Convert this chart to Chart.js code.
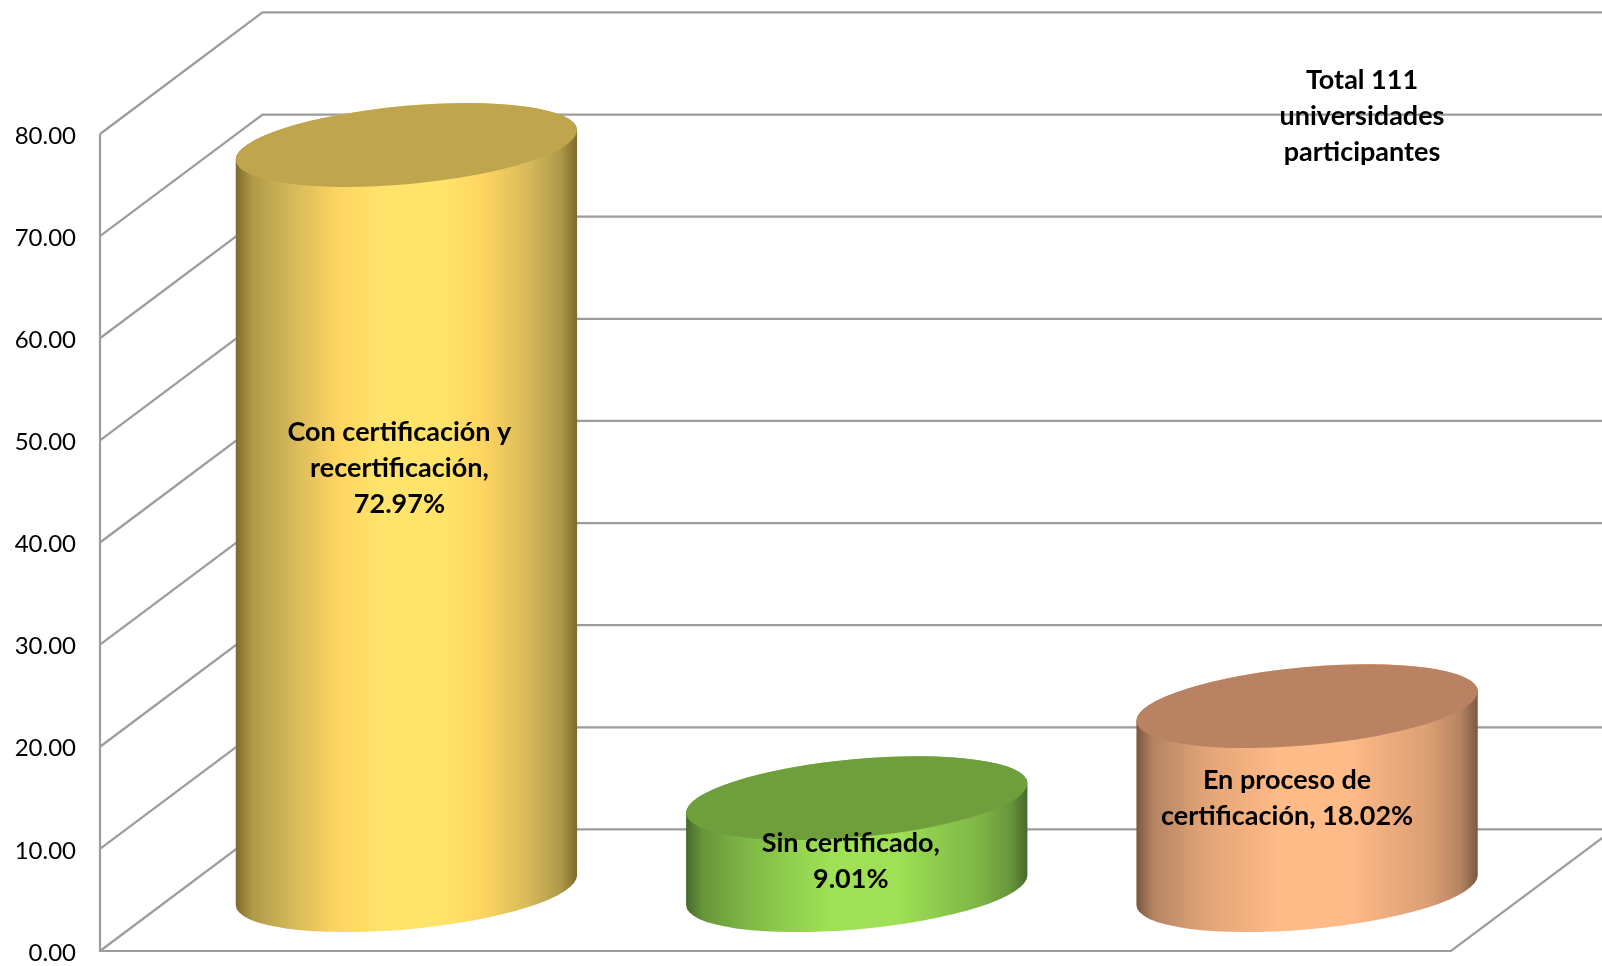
<!DOCTYPE html>
<html lang="es">
<head>
    <meta charset="UTF-8">
    <title>Universidades participantes</title>
    <script src="https://cdn.jsdelivr.net/npm/chart.js"></script>
    <style>
        html, body { margin: 0; padding: 0; background: #fff; }
        canvas { display: block; }
    </style>
</head>
<body>
    <canvas id="chart" width="1602" height="966"></canvas>
    <script>
        const categories = ['Con certificación y recertificación', 'Sin certificado', 'En proceso de certificación'];
        const values = [72.97, 9.01, 18.02];
        const barLabels = [
            ['Con certificación y', 'recertificación,', '72.97%'],
            ['Sin certificado,', '9.01%'],
            ['En proceso de', 'certificación, 18.02%']
        ];
        const noteLines = ['Total 111', 'universidades', 'participantes'];
        const sideColors = [
            ['#7f6a2c', '#b09a48', '#d9bc5b', '#ffd561', '#ffe36b', '#ffe36b', '#ffd561', '#d9bc5b', '#b09a48', '#7f6a2c'],
            ['#47692a', '#68963b', '#7fb846', '#8fce4e', '#9fe056', '#9fe056', '#8fce4e', '#7fb846', '#68963b', '#47692a'],
            ['#7a583f', '#b48463', '#dda074', '#f0ae7e', '#ffbb88', '#ffbb88', '#f0ae7e', '#dda074', '#b48463', '#7a583f']
        ];
        const topColors = ['#bfa54d', '#6f9f3d', '#b98363'];

        const colorStops = [0, 0.05, 0.18, 0.3, 0.42, 0.62, 0.72, 0.85, 0.95, 1];
        const depthX = 162.5, depthY = -121.6;
        const tilt = -5.23 * Math.PI / 180;
        const labelFont = 'bold 27px Lato, sans-serif';

        const cylinders = {
            id: 'cylinders',
            // layout left the y axis short of the floor line, so pin it here
            afterLayout(chart) {
                const y = chart.scales.y;
                y.top = 134;
                y.bottom = 951;
                y.height = 817;
                y.configure();
            },
            beforeDraw(chart) {
                // tick text sits slightly under its gridline in the original
                chart.scales.y.getLabelItems().forEach(item => { item.options.translation[1] += 2; });
            },
            beforeDatasetsDraw(chart) {
                const { ctx, scales: { y }, chartArea: area } = chart;
                ctx.save();
                ctx.strokeStyle = '#9c9c9c';
                ctx.lineWidth = 2.2;
                ctx.beginPath();
                y.ticks.forEach((t, i) => {
                    const py = y.getPixelForTick(i);
                    ctx.moveTo(area.left, py);
                    ctx.lineTo(area.left + depthX, py + depthY);
                    ctx.lineTo(1602, py + depthY);
                });
                // front axis, floor
                ctx.moveTo(area.left, y.getPixelForValue(80));
                ctx.lineTo(area.left, y.getPixelForValue(0));
                ctx.lineTo(area.right, y.getPixelForValue(0));
                ctx.lineTo(area.right + depthX, y.getPixelForValue(0) + depthY);
                ctx.stroke();
                ctx.restore();
            },
            afterDatasetsDraw(chart) {
                const { ctx, scales: { y } } = chart;
                const bars = chart.getDatasetMeta(0).data;
                bars.forEach((bar, i) => {
                    const halfW = bar.width / 2;
                    const a = halfW / 0.9962;
                    const b = a * 0.228;
                    const cx = bar.x + depthX / 2;
                    const topY = y.getPixelForValue(values[i]) + depthY / 2;
                    const baseY = y.getPixelForValue(0) + depthY / 2;
                    const t0 = Math.atan2(-b * Math.sin(tilt), a * Math.cos(tilt));

                    const grad = ctx.createLinearGradient(cx - halfW, 0, cx + halfW, 0);
                    colorStops.forEach((s, k) => grad.addColorStop(s, sideColors[i][k]));
                    ctx.fillStyle = grad;
                    ctx.beginPath();
                    ctx.ellipse(cx, baseY, a, b, tilt, t0, t0 + Math.PI, false);
                    ctx.ellipse(cx, topY, a, b, tilt, t0 + Math.PI, t0 + 2 * Math.PI, false);
                    ctx.closePath();
                    ctx.fill();

                    ctx.fillStyle = topColors[i];
                    ctx.beginPath();
                    ctx.ellipse(cx, topY, a, b, tilt, 0, 2 * Math.PI);
                    ctx.fill();
                });

                // labels sit where they were dragged in the original, not at bar centres
                const labelShift = [[-7, 468], [-6, 861], [-20, 798]];
                ctx.fillStyle = '#000';
                ctx.font = labelFont;
                ctx.textAlign = 'center';
                ctx.textBaseline = 'middle';
                barLabels.forEach((lines, i) => {
                    const cx = bars[i].x + depthX / 2 + labelShift[i][0];
                    lines.forEach((line, k) => {
                        ctx.fillText(line, cx, labelShift[i][1] + (k - (lines.length - 1) / 2) * 36);
                    });
                });
                noteLines.forEach((line, k) => {
                    ctx.fillText(line, 1362, 116 + (k - 1) * 36);
                });
            }
        };

        new Chart(document.getElementById('chart'), {
            type: 'bar',
            data: {
                labels: categories,
                datasets: [{
                    data: values,
                    backgroundColor: 'transparent',
                    barPercentage: 1,
                    categoryPercentage: 0.758
                }]
            },
            options: {
                responsive: false,
                maintainAspectRatio: false,
                animation: false,
                layout: { autoPadding: false, padding: { top: 134, right: 151, bottom: 15, left: 0 } },
                plugins: { legend: { display: false }, tooltip: { enabled: false } },
                scales: {
                    x: { display: false, grid: { display: false }, ticks: { display: false } },
                    y: {
                        min: 0,
                        max: 80,
                        border: { display: false },
                        grid: { display: false, drawTicks: false },
                        afterFit(scale) { scale.width = 100; },
                        ticks: {
                            stepSize: 10,
                            padding: 24,
                            color: '#000',
                            font: { family: 'Lato, sans-serif', size: 24 },
                            callback: v => v.toFixed(2)
                        }
                    }
                }
            },
            plugins: [cylinders]
        });
    </script>
</body>
</html>
